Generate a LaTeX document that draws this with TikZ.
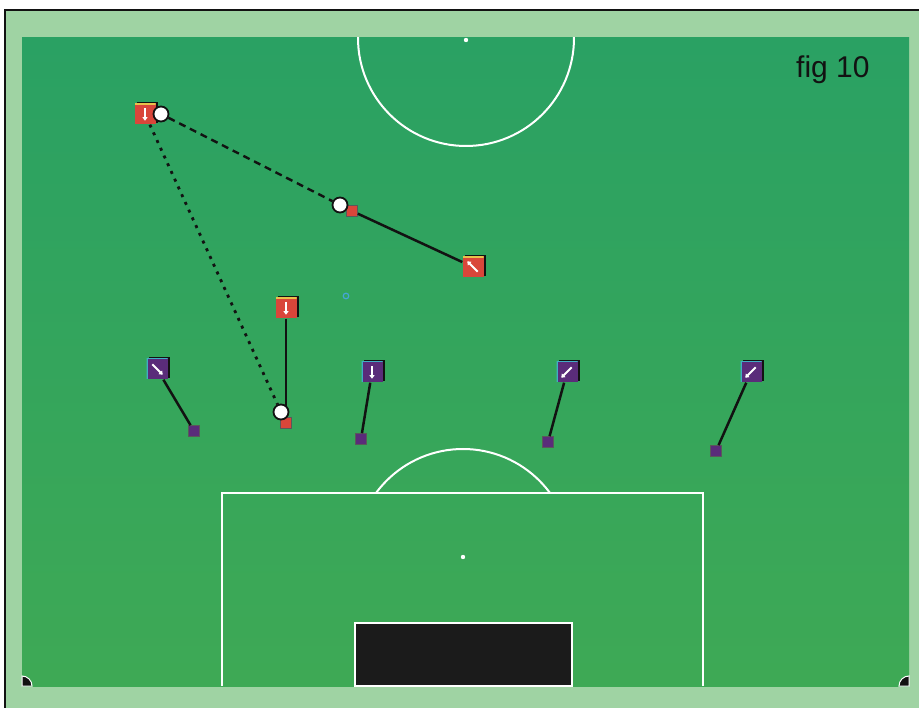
\documentclass[tikz,border=0pt]{standalone}
\usepackage{fontspec}
\newfontfamily\fbsans{Liberation Sans}
\usetikzlibrary{arrows.meta}
\usetikzlibrary{shadows}
\definecolor{fbpaper}{HTML}{FFFFFF}
\definecolor{fbframe}{HTML}{9FD3A3}
\definecolor{fbgrasstop}{HTML}{2AA163}
\definecolor{fbgrassbot}{HTML}{3EA955}
\definecolor{fbink}{HTML}{121212}
\definecolor{fbgoal}{HTML}{1B1B1B}
\definecolor{fbred}{HTML}{D9463A}
\definecolor{fbredtop}{HTML}{E8C24A}
\definecolor{fbpurple}{HTML}{5A2C7A}
\definecolor{fbpurpletop}{HTML}{3FAFC4}
\definecolor{fbspeck}{HTML}{45A6D6}
\tikzset{
  fbline/.style={draw=white, line width=2pt},
  fbplayer/.style={
    draw=none, minimum size=21pt, inner sep=0pt,
    drop shadow={shadow xshift=2pt, shadow yshift=1.5pt, fill=fbink, opacity=1}},
  fbmark/.style={draw=fbink!70, line width=0.6pt, minimum size=11pt, inner sep=0pt},
  fbball/.style={
    circle, draw=fbink, fill=white, line width=1.8pt,
    minimum size=15pt, inner sep=0pt},
  fbrun/.style={draw=fbink, line width=2.5pt},
  fbpass/.style={draw=fbink, line width=2.4pt, dash pattern=on 7pt off 5pt},
  fbdrib/.style={draw=fbink, line width=2.8pt, dash pattern=on 3pt off 5.5pt},
  fbglyph/.style={
    draw=white, line width=1.8pt, -{Triangle[length=3.5pt, width=5pt]},
    shorten <=5pt, shorten >=4pt},
  fbdiag/.style={fbglyph, shorten <=8.5pt, shorten >=7pt},
}

\begin{document}
\begin{tikzpicture}[x=1pt, y=-1pt,
  redman/.style={fbplayer, fill=fbred,
    path picture={\draw[fbredtop, line width=2.4pt]
      (path picture bounding box.north west) --
      (path picture bounding box.north east);}},
  blueman/.style={fbplayer, fill=fbpurple,
    path picture={\draw[fbpurpletop, line width=2pt]
      (path picture bounding box.south west) --
      (path picture bounding box.north west) --
      (path picture bounding box.north east);}}]

\useasboundingbox (0,0) rectangle (919,708);

% Page and frame.
\fill[fbpaper] (0,0) rectangle (919,708);
\fill[fbframe] (5,10) rectangle (919,708);
\draw[fbink, line width=1.5pt] (5,708) -- (5,10) -- (919,10);

% Pitch.
\shade[top color=fbgrasstop, bottom color=fbgrassbot]
  (22,38) rectangle (909,686);
\begin{scope}
  \clip (22,38) rectangle (909,686);
  \draw[fbline] (466,38) circle[radius=108];
\end{scope}
\fill[white] (466,40) circle[radius=2.2];
\draw[fbline] (222,686) -- (222,493) -- (703,493) -- (703,686);
\begin{scope}
  \clip (22,38) rectangle (909,493);
  \draw[fbline] (463,557) circle[radius=108];
\end{scope}
\fill[white] (463,557) circle[radius=2.2];
\draw[fbline, fill=fbgoal] (355,623) rectangle (572,686);
\draw[white, line width=1pt, fill=fbink]
  (22,686) -- (32,686) arc[start angle=0, end angle=-90, radius=10] -- cycle;
\draw[white, line width=1pt, fill=fbink]
  (909,686) -- (899,686) arc[start angle=180, end angle=270, radius=10] -- cycle;
\draw[fbspeck, line width=1.2pt] (346,296) circle[radius=2.8];

% Label.
\node[anchor=base west, font=\fbsans\fontsize{30}{36}\selectfont, text=fbink,
      inner sep=0pt] (figlabel) at (796,78) {fig 10};

% Attackers.
\node[redman] (r1) at (145,114) {};
\draw[fbglyph] (r1.north) -- (r1.south);
\node[redman] (r2) at (473,267) {};
\draw[fbdiag] (r2.south east) -- (r2.north west);
\node[redman] (r3) at (286,308) {};
\draw[fbglyph] (r3.north) -- (r3.south);
\node[fbmark, fill=fbred] (s2) at (352,211) {};
\node[fbmark, fill=fbred] (s3) at (286,423) {};
\draw[fbrun] (s2) -- (r2);
\draw[fbrun] (r3) -- (s3);
\node[fbball] (b1) at (161,114) {};
\node[fbball] (b2) at (340,205) {};
\node[fbball] (b3) at (281,412) {};
\draw[fbpass] (b1) -- (b2);
\draw[fbdrib] (r1) -- (b3);

% Defenders.
\node[blueman] (d1) at (157,369) {};
\draw[fbdiag] (d1.north west) -- (d1.south east);
\node[blueman] (d2) at (372,372) {};
\draw[fbglyph] (d2.north) -- (d2.south);
\node[blueman] (d3) at (567,372) {};
\draw[fbdiag] (d3.north east) -- (d3.south west);
\node[blueman] (d4) at (751,372) {};
\draw[fbdiag] (d4.north east) -- (d4.south west);
\node[fbmark, fill=fbpurple] (p1) at (194,431) {};
\node[fbmark, fill=fbpurple] (p2) at (361,439) {};
\node[fbmark, fill=fbpurple] (p3) at (548,442) {};
\node[fbmark, fill=fbpurple] (p4) at (716,451) {};
\draw[fbrun] (d1) -- (p1);
\draw[fbrun] (d2) -- (p2);
\draw[fbrun] (d3) -- (p3);
\draw[fbrun] (d4) -- (p4);

\end{tikzpicture}
\end{document}
